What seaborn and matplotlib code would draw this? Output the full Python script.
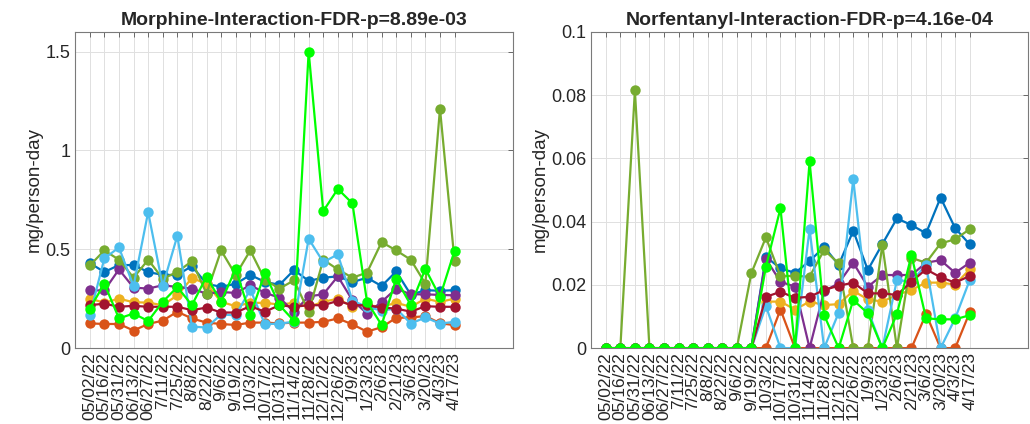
import matplotlib
matplotlib.use("Agg")
import matplotlib.pyplot as plt
import matplotlib.ticker as mticker
import seaborn as sns

sns.set_style("white")
plt.rcParams['font.family'] = ['Liberation Sans', 'DejaVu Sans']

dates = ["05/02/22", "05/16/22", "05/31/22", "06/13/22", "06/27/22", "7/11/22", "7/25/22",
         "8/8/22", "8/22/22", "9/6/22", "9/19/22", "10/3/22", "10/17/22", "10/31/22",
         "11/14/22", "11/28/22", "12/12/22", "12/26/22", "1/9/23", "1/23/23", "2/6/23",
         "2/21/23", "3/6/23", "3/20/23", "4/3/23", "4/17/23"]
pos = list(range(1, len(dates) + 1))

colors = ["#0072BD", "#D95319", "#EDB120", "#7E2F8E", "#77AC30", "#4DBEEE", "#A2142F", "#00FF00"]

# Morphine
blue_m = [0.43, 0.385, 0.42, 0.42, 0.385, 0.37, 0.37, 0.415, 0.325, 0.31, 0.325, 0.37, 0.335,
          0.32, 0.395, 0.34, 0.356, 0.363, 0.334, 0.356, 0.314, 0.388, 0.27, 0.293, 0.29, 0.293]
orange_m = [0.125, 0.122, 0.122, 0.089, 0.122, 0.139, 0.184, 0.15, 0.129, 0.122, 0.117, 0.129, 0.129,
            0.125, 0.129, 0.129, 0.133, 0.15, 0.12, 0.083, 0.106, 0.153, 0.155, 0.162, 0.126, 0.116]
yellow_m = [0.25, 0.23, 0.25, 0.232, 0.23, 0.217, 0.267, 0.354, 0.326, 0.234, 0.212, 0.229, 0.229,
            0.22, 0.229, 0.209, 0.234, 0.25, 0.209, 0.217, 0.209, 0.229, 0.209, 0.25, 0.234, 0.25]
purple_m = [0.292, 0.292, 0.398, 0.306, 0.301, 0.318, 0.309, 0.301, 0.275, 0.284, 0.279, 0.318, 0.28,
            0.255, 0.183, 0.262, 0.272, 0.363, 0.242, 0.175, 0.234, 0.301, 0.272, 0.272, 0.269, 0.267]
olive_m = [0.418, 0.494, 0.447, 0.356, 0.447, 0.351, 0.385, 0.44, 0.276, 0.494, 0.37, 0.494, 0.346,
           0.301, 0.343, 0.183, 0.447, 0.398, 0.356, 0.382, 0.536, 0.494, 0.447, 0.326, 1.211, 0.439]
lightblue_m = [0.165, 0.454, 0.509, 0.314, 0.688, 0.314, 0.568, 0.109, 0.104, 0.17, 0.166, 0.296, 0.121,
               0.124, 0.133, 0.553, 0.435, 0.474, 0.24, 0.208, 0.19, 0.2, 0.124, 0.155, 0.124, 0.133]
darkred_m = [0.217, 0.225, 0.209, 0.214, 0.209, 0.209, 0.209, 0.192, 0.205, 0.18, 0.18, 0.212, 0.184,
             0.217, 0.209, 0.217, 0.217, 0.239, 0.217, 0.217, 0.205, 0.2, 0.184, 0.212, 0.209, 0.209]
green_m = [0.2, 0.326, 0.15, 0.175, 0.137, 0.234, 0.309, 0.217, 0.362, 0.234, 0.401, 0.167, 0.379,
           0.217, 0.137, 1.5, 0.693, 0.805, 0.732, 0.234, 0.117, 0.351, 0.217, 0.401, 0.259, 0.493]

# Norfentanyl
blue_n = [0, 0, 0, 0, 0, 0, 0, 0, 0, 0, 0, 0.0289, 0.0252, 0.0238, 0.0275, 0.032, 0.0263, 0.0371,
          0.0247, 0.0329, 0.041, 0.0389, 0.0363, 0.0476, 0.0379, 0.0328]
orange_n = [0, 0, 0, 0, 0, 0, 0, 0, 0, 0, 0, 0, 0.0122, 0, 0, 0, 0, 0, 0, 0, 0, 0, 0.0108, 0, 0, 0.0113]
yellow_n = [0, 0, 0, 0, 0, 0, 0, 0, 0, 0, 0, 0.0147, 0.0147, 0.0122, 0.0147, 0.0136, 0.0139, 0.0181,
            0.0154, 0.0147, 0.0168, 0.0184, 0.0207, 0.0207, 0.0201, 0.0249]
purple_n = [0, 0, 0, 0, 0, 0, 0, 0, 0, 0, 0, 0.0282, 0.021, 0.0194, 0, 0.018, 0.0205, 0.027,
            0.0194, 0.0231, 0.0231, 0.0231, 0.027, 0.0278, 0.0238, 0.027]
olive_n = [0, 0, 0.0815, 0, 0, 0, 0, 0, 0, 0, 0.0237, 0.035, 0.0228, 0.0228, 0.0226, 0.031, 0.0268, 0,
           0, 0.0326, 0, 0.0285, 0.027, 0.0331, 0.0344, 0.0376]
lightblue_n = [0, 0, 0, 0, 0, 0, 0, 0, 0, 0, 0, 0.0133, 0, 0, 0.0376, 0, 0.0112, 0.0534,
               0.012, 0, 0.0215, 0.021, 0.0263, 0, 0.0094, 0.0215]
darkred_n = [0, 0, 0, 0, 0, 0, 0, 0, 0, 0, 0, 0.0162, 0.0178, 0.0159, 0.0162, 0.0184, 0.0197, 0.0207,
             0.0173, 0.0173, 0.0168, 0.021, 0.0249, 0.0224, 0.0207, 0.0228]
green_n = [0, 0, 0, 0, 0, 0, 0, 0, 0, 0, 0, 0.0257, 0.0442, 0, 0.059, 0.0104, 0, 0.0152,
           0.011, 0, 0.0108, 0.0294, 0.0094, 0.0091, 0.0091, 0.0104]

morphine = [blue_m, orange_m, yellow_m, purple_m, olive_m, lightblue_m, darkred_m, green_m]
norfent = [blue_n, orange_n, yellow_n, purple_n, olive_n, lightblue_n, darkred_n, green_n]

fig = plt.figure(figsize=(10.3, 4.24), dpi=100)
ax1 = fig.add_axes([0.073, 0.179, 0.425, 0.746])
ax2 = fig.add_axes([0.574, 0.179, 0.424, 0.746])


def draw(ax, series, title, ylim, yticks):
    for vals, c in zip(series, colors):
        sns.lineplot(x=pos, y=vals, color=c, marker="o", markersize=7.5,
                     markeredgewidth=0, linewidth=1.6, ax=ax)
    ax.set_xlim(0, 30)
    ax.set_ylim(*ylim)
    ax.set_xticks(pos)
    ax.set_xticklabels(dates, rotation=90, fontsize=12.5, color="#262626")
    ax.set_yticks(yticks)
    ax.yaxis.set_major_formatter(mticker.FormatStrFormatter("%g"))
    ax.tick_params(axis="y", labelsize=13, colors="#262626")
    ax.tick_params(axis="x", pad=3)
    ax.tick_params(direction="in", length=3.5, width=0.6, top=True, right=True,
                   color="#555555")
    ax.grid(True, color="#e0e0e0", linewidth=0.7)
    ax.set_axisbelow(True)
    for s in ax.spines.values():
        s.set_color("#7a7a7a")
        s.set_linewidth(0.8)
    ax.set_title(title, fontsize=14, fontweight="bold", pad=5)
    ax.set_ylabel("mg/person-day", fontsize=13.5, color="#262626", labelpad=2)
    ax.set_xlabel("")


draw(ax1, morphine, "Morphine-Interaction-FDR-p=8.89e-03", (0, 1.6), [0, 0.5, 1, 1.5])
draw(ax2, norfent, "Norfentanyl-Interaction-FDR-p=4.16e-04", (0, 0.1),
     [0, 0.02, 0.04, 0.06, 0.08, 0.1])

fig.savefig("out.png", dpi=100)
